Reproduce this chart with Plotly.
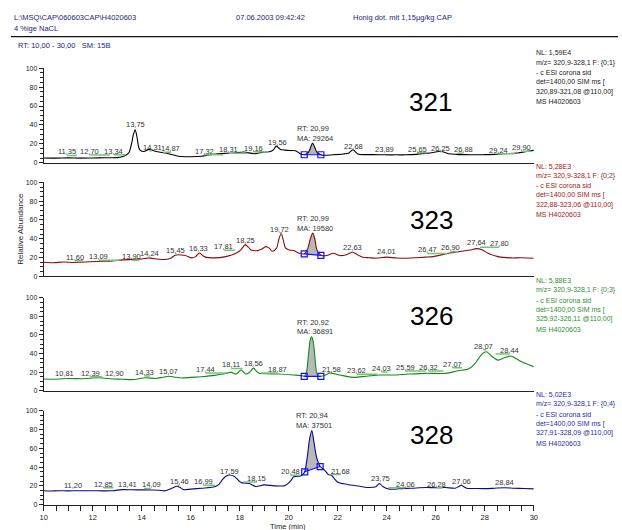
import plotly.graph_objects as go

W, H = 622, 530

# ---- SIM chromatograms: retention time (min) and relative abundance (%) ----
t_321 = [10.0, 10.5, 11.0, 11.5, 12.0, 12.5, 13.0, 13.2, 13.35, 13.48, 13.58, 13.66, 13.73, 13.8,
         13.88, 13.95, 14.09, 14.29, 14.45, 14.7, 15.1, 15.5, 16.0, 16.44, 16.8, 17.1, 17.4, 17.77,
         18.17, 18.58, 18.98, 19.26, 19.38, 19.49, 19.58, 19.66, 19.85, 20.07, 20.27, 20.47, 20.63,
         20.8, 20.9, 20.97, 21.05, 21.15, 21.31, 21.41, 21.8, 22.22, 22.45, 22.62, 22.82, 23.1, 23.43,
         23.9, 24.4, 24.77, 25.2, 25.58, 25.9, 26.18, 26.52, 26.85, 27.19, 27.6, 28.0, 28.4, 28.8,
         29.34, 29.74, 30.0]
a_321 = [5.2, 5.0, 5.3, 5.0, 5.2, 5.4, 5.5, 6.5, 8.0, 11.0, 20.0, 30.0, 35.0, 28.0,
         16.0, 13.0, 12.0, 14.2, 13.0, 11.4, 9.7, 7.0, 6.5, 7.0, 8.5, 9.7, 10.0, 10.4,
         11.4, 9.7, 11.4, 12.0, 14.0, 17.7, 16.0, 14.2, 13.5, 13.0, 12.8, 9.7, 8.6,
         11.0, 17.0, 21.0, 17.0, 11.0, 8.6, 8.0, 8.5, 9.4, 10.5, 13.9, 9.4, 8.7, 8.7,
         8.5, 8.5, 8.5, 9.0, 10.0, 11.0, 12.2, 9.7, 9.0, 8.7, 8.5, 8.7, 9.0, 9.7,
         10.4, 12.2, 13.2]

t_323 = [10.0, 10.4, 10.8, 11.2, 11.47, 11.9, 12.4, 12.8, 13.2, 13.74, 14.0, 14.29, 14.5, 14.7,
         14.96, 15.2, 15.36, 15.77, 16.04, 16.2, 16.35, 16.57, 16.98, 17.38, 17.78, 17.98, 18.1,
         18.22, 18.35, 18.46, 18.73, 18.9, 19.06, 19.2, 19.33, 19.5, 19.6, 19.69, 19.78, 19.87,
         20.02, 20.2, 20.44, 20.63, 20.78, 20.88, 20.98, 21.06, 21.15, 21.31, 21.55, 21.82, 22.08,
         22.35, 22.62, 22.8, 23.02, 23.3, 23.56, 23.97, 24.4, 24.77, 25.2, 25.58, 25.9, 26.12,
         26.52, 27.06, 27.4, 27.66, 27.9, 28.13, 28.54, 29.07, 29.5, 30.0]
a_323 = [15.0, 14.5, 15.2, 14.8, 15.0, 15.5, 16.0, 16.5, 17.5, 18.2, 18.5, 19.6, 18.8, 18.2,
         17.9, 19.5, 22.5, 22.1, 19.6, 21.0, 24.9, 20.7, 19.6, 20.7, 23.9, 26.7, 30.0,
         33.7, 31.0, 28.0, 27.4, 29.0, 31.6, 30.0, 26.7, 30.0, 40.0, 45.6, 38.0, 30.0,
         28.0, 27.4, 24.6, 24.0, 30.0, 40.0, 46.0, 40.0, 28.0, 22.4, 22.1, 24.6, 22.1,
         23.0, 25.6, 23.0, 20.4, 19.8, 19.3, 20.4, 19.5, 19.3, 19.8, 20.4, 21.0, 22.1,
         24.6, 26.7, 28.0, 29.5, 28.0, 24.6, 21.0, 19.6, 19.8, 19.3]

t_326 = [10.0, 10.5, 11.06, 11.6, 12.27, 12.8, 13.2, 13.6, 14.17, 14.56, 14.85, 15.1, 15.4, 15.63,
         16.0, 16.44, 16.98, 17.3, 17.65, 17.85, 18.05, 18.25, 18.4, 18.56, 18.68, 18.79, 19.1,
         19.53, 20.2, 20.54, 20.63, 20.72, 20.8, 20.87, 20.93, 20.99, 21.06, 21.13, 21.2, 21.31,
         21.5, 21.68, 22.08, 22.62, 23.16, 23.7, 24.23, 24.9, 25.58, 26.39, 26.92, 27.33, 27.55,
         27.73, 27.9, 28.07, 28.25, 28.54, 28.8, 29.07, 29.25, 29.48, 29.75, 30.0]
a_326 = [12.7, 12.5, 13.3, 13.0, 14.0, 12.7, 12.5, 12.0, 14.0, 13.3, 14.5, 15.6, 14.5, 13.8,
         14.5, 15.2, 16.6, 18.0, 19.8, 18.0, 22.3, 18.0, 20.0, 24.4, 21.0, 18.8, 18.3,
         18.0, 17.0, 16.3, 15.6, 20.0, 38.0, 54.0, 58.0, 54.0, 38.0, 20.0, 16.0, 15.6,
         17.0, 19.0, 17.0, 14.5, 15.6, 17.0, 17.0, 18.0, 18.8, 18.8, 21.6, 23.4, 28.0,
         34.0, 40.0, 42.0, 38.0, 33.0, 35.5, 37.4, 35.0, 31.6, 28.5, 26.0]

t_328 = [10.0, 10.3, 10.6, 11.0, 11.4, 11.8, 12.2, 12.8, 13.2, 13.6, 14.0, 14.42, 14.7, 14.96,
         15.23, 15.43, 15.55, 15.7, 16.0, 16.44, 16.98, 17.15, 17.3, 17.45, 17.58, 17.78, 18.05,
         18.39, 18.66, 18.99, 19.4, 19.8, 19.94, 20.1, 20.2, 20.47, 20.57, 20.65, 20.75, 20.85,
         20.94, 21.02, 21.12, 21.21, 21.28, 21.45, 21.62, 21.75, 21.88, 22.02, 22.4, 22.9, 23.3,
         23.55, 23.7, 23.85, 24.1, 24.3, 24.5, 25.0, 25.58, 26.0, 26.39, 26.79, 26.92, 27.03,
         27.15, 27.26, 27.6, 28.0, 28.4, 28.8, 29.2, 29.6, 30.0]
a_328 = [14.7, 14.5, 14.8, 14.6, 14.8, 14.7, 14.7, 14.8, 16.0, 15.8, 15.7, 15.6, 15.3, 14.7,
         17.5, 19.6, 18.5, 16.0, 16.5, 17.5, 19.0, 21.5, 27.0, 30.5, 31.6, 30.0, 23.5,
         22.5, 19.3, 21.0, 20.0, 20.0, 21.8, 26.0, 29.8, 30.5, 32.0, 35.0, 50.0, 70.0,
         79.0, 68.0, 52.0, 44.5, 40.6, 37.0, 32.0, 31.0, 27.0, 23.5, 21.5, 19.5, 18.2,
         19.0, 22.4, 19.0, 16.5, 16.4, 17.0, 17.5, 18.2, 18.0, 18.2, 17.5, 19.0, 20.6,
         19.0, 17.5, 17.2, 17.0, 17.5, 18.0, 17.5, 17.2, 16.8]

# integration limits (min) of the CAP peak in each trace
lim_321 = (20.63, 21.31)
lim_323 = (20.63, 21.31)
lim_326 = (20.63, 21.31)
lim_328 = (20.65, 21.28)

# peak labels: text, label centre (min), label height (%)
pk_321 = [("11,35", 10.94, 11.5), ("12,70", 11.88, 12.2), ("13,34", 12.86, 12.5),
          ("13,75", 13.73, 40.0), ("14,31", 14.42, 16.7), ("14,87", 15.19, 15.0),
          ("17,32", 16.55, 12.5), ("18,31", 17.54, 13.9), ("19,16", 18.56, 15.6),
          ("19,56", 19.53, 21.9), ("22,68", 22.66, 17.7), ("23,89", 23.90, 13.9),
          ("25,65", 25.24, 14.5), ("26,25", 26.18, 15.6), ("26,88", 27.12, 13.9),
          ("29,24", 28.54, 13.5), ("29,90", 29.50, 16.0)]
pk_323 = [("11,60", 11.27, 20.3), ("13,09", 12.25, 21.0), ("13,90", 13.59, 21.0),
          ("14,24", 14.30, 23.9), ("15,45", 15.36, 27.4), ("16,33", 16.31, 29.8),
          ("17,81", 17.35, 31.6), ("18,25", 18.23, 37.9), ("19,72", 19.64, 50.2),
          ("22,63", 22.60, 30.2), ("24,01", 24.00, 26.3), ("26,47", 25.65, 28.1),
          ("26,90", 26.59, 30.2), ("27,64", 27.66, 35.5), ("27,80", 28.58, 34.7)]
pk_326 = [("10,81", 10.86, 18.8), ("12,39", 11.91, 18.8), ("12,90", 12.90, 18.8),
          ("14,33", 14.11, 19.8), ("15,07", 15.10, 20.9), ("17,44", 16.60, 23.0),
          ("18,11", 17.65, 27.9), ("18,56", 18.56, 29.7), ("18,87", 19.53, 23.0),
          ("21,58", 21.75, 23.3), ("23,62", 22.78, 21.5), ("24,03", 23.79, 24.0),
          ("25,59", 24.75, 25.1), ("26,32", 25.71, 25.1), ("27,07", 26.69, 28.6),
          ("28,07", 27.96, 48.0), ("28,44", 29.01, 43.5)]
pk_328 = [("11,20", 11.20, 20.0), ("12,85", 12.44, 21.7), ("13,41", 13.42, 21.0),
          ("14,09", 14.38, 21.0), ("15,46", 15.54, 24.5), ("16,99", 16.51, 24.5),
          ("17,59", 17.58, 35.8), ("18,15", 18.70, 28.0), ("20,48", 20.07, 35.0),
          ("21,68", 22.11, 35.8), ("23,75", 23.74, 28.0), ("24,06", 24.75, 21.7),
          ("26,28", 26.02, 21.7), ("27,06", 27.06, 24.5), ("28,84", 28.81, 23.5)]

# integrated peak: retention time and area
rt_ma = [("RT: 20,99", "MA: 29264"), ("RT: 20,99", "MA: 19580"),
         ("RT: 20,92", "MA: 36891"), ("RT: 20,94", "MA: 37501")]

masses = ["321", "323", "326", "328"]
nl = ["NL: 1,59E4", "NL: 5,28E3", "NL: 5,88E3", "NL: 5,02E3"]
filt = ["m/z= 320,9-328,1 F: {0;1}", "m/z= 320,9-328,1 F: {0;2}",
        "m/z= 320,9-328,1 F: {0;3}", "m/z= 320,9-328,1 F: {0;4}"]
sim = ["320,89-321,08 @110,00]", "322,88-323,06 @110,00]",
       "325,92-326,11 @110,00]", "327,91-328,09 @110,00]"]

x_ticks = [10, 12, 14, 16, 18, 20, 22, 24, 26, 28, 30]
y_ticks = [0, 20, 40, 60, 80, 100]

# ---- styling / geometry ----
FONT = "Liberation Sans, Arial, sans-serif"
line_col = ["#000000", "#8b0a0a", "#138a13", "#0a0a8c"]
text_col = ["#1a1a1a", "#a01818", "#2f8f2f", "#2a2aa8"]
header_col = "#23237a"
label_col = "#333333"
noise_col = "#74c474"
box_col = "#1010ff"

# plot areas in pixels: (top of 100 %, bottom at 0 %)
panel_px = [(65.0, 161.0), (180.7, 276.0), (297.7, 392.0), (412.3, 507.3)]
x_left_px, x_right_px = 40.3, 536.7
nl_top_px = [49.5, 164.5, 280.5, 396.0]
big_px = [(432, 99), (433, 219), (433, 316), (433, 437)]
rtma_px = [(295, 126, 136), (295, 217, 227), (295, 322.5, 332), (294, 417, 427)]


def px(x):
    return x / W


def py(y):
    return 1 - y / H


series = [(t_321, a_321, lim_321, pk_321), (t_323, a_323, lim_323, pk_323),
          (t_326, a_326, lim_326, pk_326), (t_328, a_328, lim_328, pk_328)]

fig = go.Figure()
annotations = []
shapes = []
layout_axes = {}

for i, (t, a, lim, peaks) in enumerate(series):
    n = "" if i == 0 else str(i + 1)
    xa, ya = "x" + n, "y" + n
    top, bot = panel_px[i]

    # integration baseline and shaded peak area
    i0, i1 = t.index(lim[0]), t.index(lim[1])
    base_x = [t[i0], t[i1]]
    base_y = [a[i0], a[i1]]
    fig.add_trace(go.Scatter(x=base_x, y=base_y, xaxis=xa, yaxis=ya, mode="lines",
                             line=dict(width=0, color="rgba(0,0,0,0)"), hoverinfo="skip",
                             showlegend=False))
    fig.add_trace(go.Scatter(x=t[i0:i1 + 1], y=a[i0:i1 + 1], xaxis=xa, yaxis=ya, mode="lines",
                             line=dict(width=0, color="rgba(0,0,0,0)", shape="spline",
                                       smoothing=0.8),
                             fill="tonexty", fillcolor="#b8b8b8", hoverinfo="skip",
                             showlegend=False))
    # chromatogram trace
    fig.add_trace(go.Scatter(x=t, y=a, xaxis=xa, yaxis=ya, mode="lines",
                             line=dict(width=1.1, color=line_col[i], shape="spline",
                                       smoothing=0.8),
                             showlegend=False))
    fig.add_trace(go.Scatter(x=base_x, y=base_y, xaxis=xa, yaxis=ya, mode="lines+markers",
                             line=dict(width=1.2, color=box_col),
                             marker=dict(symbol="square-open", size=6, color=box_col,
                                         line=dict(width=1.2, color=box_col)),
                             showlegend=False))

    # axes
    xdom = [px(x_left_px), px(x_right_px)]
    ydom = [py(bot), py(top)]
    xaxis = dict(domain=xdom, anchor=ya, range=[10, 30], showgrid=False, zeroline=False,
                 showline=True, linecolor="#222222", linewidth=1.4, fixedrange=True)
    if i < 3:
        xaxis.update(showticklabels=False, ticks="", matches="x4")
    else:
        xaxis.update(tickmode="array", tickvals=x_ticks, ticks="outside", ticklen=5,
                     tickwidth=1, tickcolor="#222222",
                     tickfont=dict(size=7.5, color="#222222", family=FONT),
                     minor=dict(dtick=0.5, tick0=10, ticks="outside", ticklen=5,
                                tickwidth=1, tickcolor="#222222"))
    yaxis = dict(domain=ydom, anchor=xa, range=[0, 100], showgrid=False, zeroline=False,
                 showline=True, linecolor="#222222", linewidth=1, fixedrange=True,
                 tickmode="array", tickvals=y_ticks, ticks="outside", ticklen=4,
                 tickwidth=1, tickcolor="#222222",
                 tickfont=dict(size=7, color="#222222", family=FONT),
                 minor=dict(dtick=5, tick0=0, ticks="outside", ticklen=2.5, tickwidth=1,
                            tickcolor="#222222"))
    layout_axes["xaxis" + n] = xaxis
    layout_axes["yaxis" + n] = yaxis

    # peak labels with their noise markers
    for txt, xc, yc in peaks:
        rt = float(txt.replace(",", "."))
        annotations.append(dict(x=xc, y=yc, xref=xa, yref=ya, text=txt, showarrow=False,
                                xanchor="center", yanchor="middle",
                                font=dict(size=7.5, color=label_col, family=FONT)))
        lo, hi = min(xc, rt), max(xc, rt)
        if hi - lo > 0.05:
            shapes.append(dict(type="line", xref=xa, yref=ya, x0=lo, x1=hi,
                               y0=yc - 3.8, y1=yc - 3.8,
                               line=dict(color=noise_col, width=1.5)))

    # RT / MA of the integrated peak
    rx, ry1, ry2 = rtma_px[i]
    for s, yy in zip(rt_ma[i], (ry1, ry2)):
        annotations.append(dict(x=px(rx), y=py(yy), xref="paper", yref="paper", text=s,
                                showarrow=False, xanchor="left", yanchor="middle",
                                font=dict(size=7.5, color=label_col, family=FONT)))

    # large mass label
    bx, by = big_px[i]
    annotations.append(dict(x=px(bx), y=py(by), xref="paper", yref="paper", text=masses[i],
                            showarrow=False, xanchor="center", yanchor="middle",
                            font=dict(size=26, color="#000000", family=FONT)))

    # scan description block
    lines = [nl[i], filt[i], "- c ESI corona sid", "det=1400,00 SIM ms [", sim[i],
             "MS H4020603"]
    for k, s in enumerate(lines):
        annotations.append(dict(x=px(537), y=py(nl_top_px[i] + 9.8 * k), xref="paper",
                                yref="paper", text=s, showarrow=False, xanchor="left",
                                yanchor="middle",
                                font=dict(size=7, color=text_col[i], family=FONT)))

# header
hdr = [("L:\\MSQ\\CAP\\060603CAP\\H4020603", 8, 14), ("4 %ige NaCL", 8, 24.5),
       ("07.06.2003 09:42:42", 233, 14), ("Honig dot. mit 1,15µg/kg CAP", 352, 14),
       ("RT: 10,00 - 30,00   SM: 15B", 12, 42)]
for s, x, y in hdr:
    annotations.append(dict(x=px(x), y=py(y), xref="paper", yref="paper", text=s,
                            showarrow=False, xanchor="left", yanchor="middle",
                            font=dict(size=7.5, color=header_col, family=FONT)))
shapes.append(dict(type="line", xref="paper", yref="paper", x0=px(7), x1=1.0,
                   y0=py(33), y1=py(33), line=dict(color="#111111", width=1.3)))

# axis titles
annotations.append(dict(x=px(17), y=py(228), xref="paper", yref="paper",
                        text="Relative Abundance", textangle=-90, showarrow=False,
                        xanchor="center", yanchor="middle",
                        font=dict(size=8, color="#222222", family=FONT)))
annotations.append(dict(x=px(288), y=py(529), xref="paper", yref="paper", text="Time (min)",
                        showarrow=False, xanchor="center", yanchor="middle",
                        font=dict(size=7.5, color="#222222", family=FONT)))

fig.update_layout(width=W, height=H, margin=dict(l=0, r=0, t=0, b=0, pad=0),
                  paper_bgcolor="white", plot_bgcolor="white", showlegend=False,
                  font=dict(family=FONT), annotations=annotations, shapes=shapes,
                  **layout_axes)

fig.write_html("out.html", config={"displayModeBar": False})
